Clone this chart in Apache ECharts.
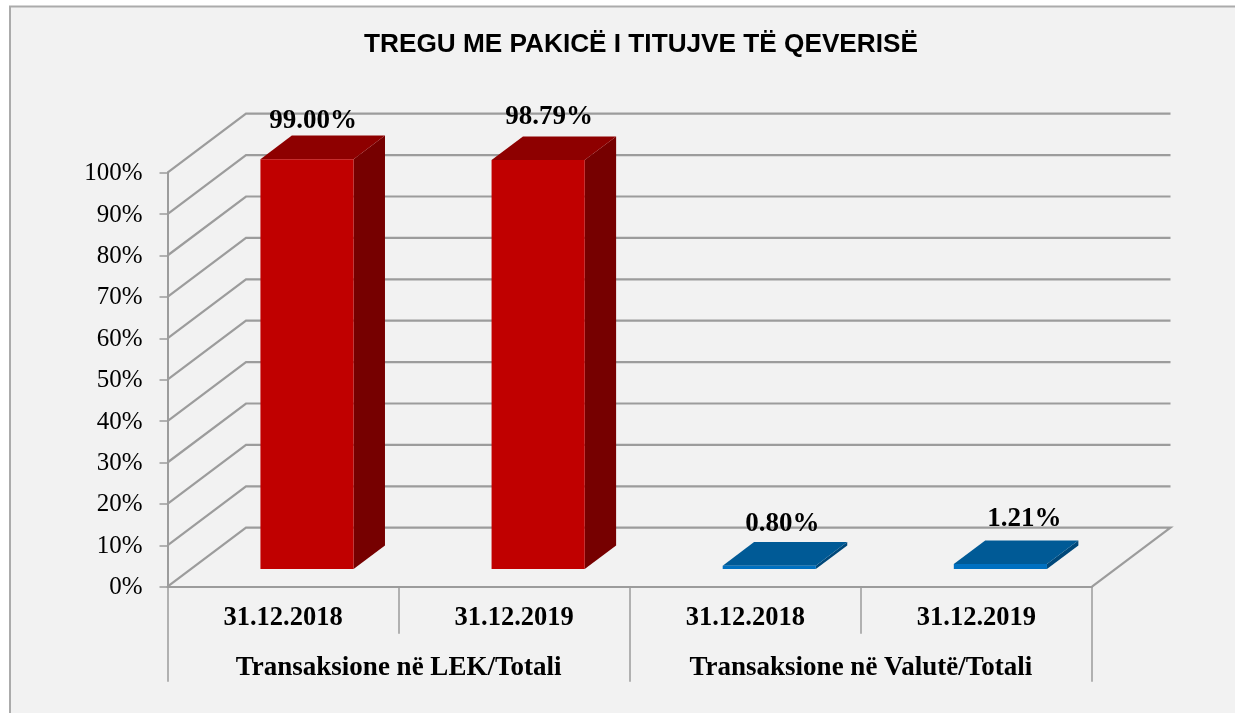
<!DOCTYPE html>
<html><head><meta charset="utf-8">
<style>html,body{margin:0;padding:0;background:#fff}#c{width:1235px;height:713px}</style>
<script src="https://cdn.jsdelivr.net/npm/echarts@6/dist/echarts.min.js"></script>
</head><body><div id="c"></div>
<script>
const titleText = 'TREGU ME PAKICË I TITUJVE TË QEVERISË';
const dateCategories = ['31.12.2018', '31.12.2019', '31.12.2018', '31.12.2019'];
const groupCategories = ['Transaksione në LEK/Totali', 'Transaksione në Valutë/Totali'];
const lekValues = [99.00, 98.79];
const valutaValues = [0.80, 1.21];
const tickValues = [0, 10, 20, 30, 40, 50, 60, 70, 80, 90, 100];

// 3D projection and style constants (not data)
const DEPTH_X = 78.5, DEPTH_Y = -59;
const GRID_COLOR = '#9c9c9c';
const SERIF = '"Liberation Serif", serif';
const labelNudge = [[6, -15], [11, -19], [13, -18], [24, -21]];
const RED = { front: '#c00000', top: '#8e0000', side: '#760000' };
const BLUE = { front: '#0070c0', top: '#005a96', side: '#00487a' };

function renderGrid(params, api) {
  const cs = params.coordSys;
  const v = api.value(1);
  const y = api.coord([0, v])[1];
  const pts = [[cs.x, y], [cs.x + DEPTH_X, y + DEPTH_Y], [cs.x + cs.width + DEPTH_X, y + DEPTH_Y]];
  if (v === 0) pts.push([cs.x + cs.width, y]);
  return { type: 'polyline', shape: { points: pts }, style: { fill: 'none', stroke: GRID_COLOR, lineWidth: 2.2 } };
}

function barRenderer(c) {
  return function (params, api) {
    const idx = api.value(0), val = api.value(1);
    const band = api.size([1, 0])[0];
    const cx = api.coord([idx, 0])[0];
    const w = band * 0.403;
    const ox = DEPTH_X * 0.3, oy = DEPTH_Y * 0.3;
    const dx = DEPTH_X * 0.4, dy = DEPTH_Y * 0.4;
    const x0 = cx - w / 2 + ox + 0.4, x1 = x0 + w;
    const yb = api.coord([idx, 0])[1] + oy;
    const yt = api.coord([idx, val])[1] + oy;
    const n = labelNudge[idx];
    return {
      type: 'group',
      children: [
        { type: 'polygon', shape: { points: [[x1, yb], [x1 + dx, yb + dy], [x1 + dx, yt + dy], [x1, yt]] }, style: { fill: c.side } },
        { type: 'polygon', shape: { points: [[x0, yt], [x1, yt], [x1 + dx, yt + dy], [x0 + dx, yt + dy]] }, style: { fill: c.top } },
        { type: 'rect', shape: { x: x0, y: yt, width: w, height: yb - yt }, style: { fill: c.front } },
        { type: 'text', z2: 10, style: {
            text: val.toFixed(2) + '%', x: (x0 + x1) / 2 + n[0], y: yt + dy + n[1],
            align: 'center', verticalAlign: 'middle', fill: '#000',
            font: 'bold 27px ' + SERIF } }
      ]
    };
  };
}

const chart = echarts.init(document.getElementById('c'), null, { renderer: 'canvas' });
chart.setOption({
  animation: false,
  backgroundColor: '#ffffff',
  graphic: [{ type: 'rect', z: -10, shape: { x: 10, y: 6.5, width: 1240, height: 720 },
    style: { fill: '#f2f2f2', stroke: '#ababab', lineWidth: 2 } }],
  title: { text: titleText, left: 636, top: 27, textAlign: 'center',
    textStyle: { fontFamily: '"Liberation Sans", Arial, sans-serif', fontWeight: 'bold', fontSize: 26.2, color: '#000' } },
  grid: { left: 167.5, top: 172.7, width: 924.5, height: 414, containLabel: false },
  xAxis: [
    { type: 'category', data: dateCategories, position: 'bottom',
      axisLine: { lineStyle: { color: GRID_COLOR, width: 2.2 } },
      axisTick: { show: true, alignWithLabel: false, length: 47, lineStyle: { color: GRID_COLOR, width: 1.5 } },
      axisLabel: { interval: 0, margin: 18, color: '#000', fontFamily: SERIF, fontWeight: 'bold', fontSize: 26.5 } },
    { type: 'category', data: groupCategories, position: 'bottom',
      axisLine: { show: false },
      axisTick: { show: true, alignWithLabel: false, length: 95, lineStyle: { color: GRID_COLOR, width: 1.5 } },
      axisLabel: { interval: 0, margin: 68, color: '#000', fontFamily: SERIF, fontWeight: 'bold', fontSize: 27 } }
  ],
  yAxis: { type: 'value', min: 0, max: 100, interval: 10,
    axisLine: { show: true, lineStyle: { color: GRID_COLOR, width: 2 } },
    axisTick: { show: true, length: 8, lineStyle: { color: GRID_COLOR, width: 1.5 } },
    splitLine: { show: false },
    axisLabel: { margin: 25, color: '#000', fontFamily: SERIF, fontSize: 25, verticalAlign: 'top', lineHeight: 2, formatter: '{value}%' } },
  series: [
    { type: 'custom', name: 'grid', z: 1, xAxisIndex: 0, silent: true, renderItem: renderGrid,
      data: tickValues.map(v => [0, v]), encode: { x: 0, y: 1 } },
    { type: 'custom', name: 'LEK', z: 3, xAxisIndex: 0, renderItem: barRenderer(RED),
      data: lekValues.map((v, i) => [i, v]), encode: { x: 0, y: 1 } },
    { type: 'custom', name: 'Valutë', z: 3, xAxisIndex: 0, renderItem: barRenderer(BLUE),
      data: valutaValues.map((v, i) => [i + lekValues.length, v]), encode: { x: 0, y: 1 } }
  ]
});
</script></body></html>
